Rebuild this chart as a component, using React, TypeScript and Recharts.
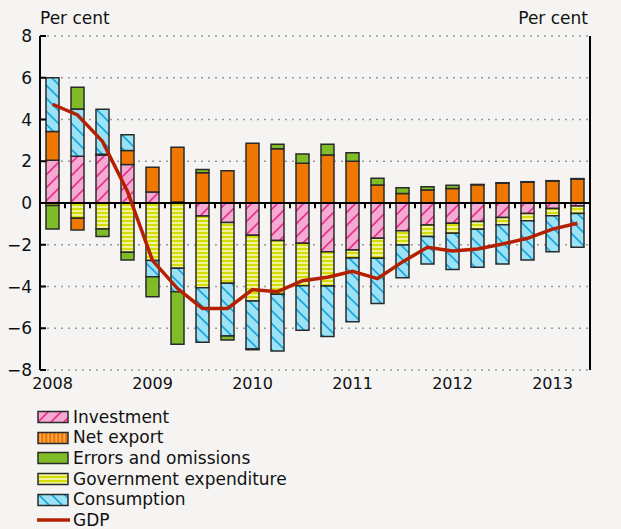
import React from "react";
import { ComposedChart, Bar, Line, XAxis, YAxis, CartesianGrid, ReferenceLine } from "recharts";

// Quarterly contributions to GDP growth, 2008 Q1 - 2013 Q2
const quarters = [
  "2008Q1", "2008Q2", "2008Q3", "2008Q4",
  "2009Q1", "2009Q2", "2009Q3", "2009Q4",
  "2010Q1", "2010Q2", "2010Q3", "2010Q4",
  "2011Q1", "2011Q2", "2011Q3", "2011Q4",
  "2012Q1", "2012Q2", "2012Q3", "2012Q4",
  "2013Q1", "2013Q2",
];
const yearLabels = ["2008", "2009", "2010", "2011", "2012", "2013"];
const yTicks = [-8, -6, -4, -2, 0, 2, 4, 6, 8];

const investment = [2.05, 2.24, 2.3, 1.84, 0.53, 0.05, -0.62, -0.94, -1.55, -1.8, -1.93, -2.33, -2.25, -1.69, -1.33, -1.05, -0.97, -0.89, -0.69, -0.5, -0.26, -0.14];
const netExport = [1.37, -0.56, 0.03, 0.67, 1.18, 2.62, 1.45, 1.55, 2.86, 2.6, 1.9, 2.3, 2.0, 0.86, 0.46, 0.62, 0.7, 0.87, 0.95, 1.0, 1.05, 1.15];
const errors = [-1.13, 1.04, -0.36, -0.37, -0.96, -2.52, 0.15, -0.19, -0.04, 0.21, 0.45, 0.51, 0.41, 0.32, 0.27, 0.16, 0.15, 0.02, 0.02, 0.02, 0.02, 0.02];
const government = [-0.12, -0.73, -1.25, -2.36, -2.76, -3.13, -3.44, -2.91, -3.14, -2.57, -2.03, -1.65, -0.38, -0.96, -0.68, -0.56, -0.48, -0.37, -0.35, -0.35, -0.35, -0.36];
const consumption = [2.58, 2.26, 2.16, 0.76, -0.77, -1.12, -2.61, -2.52, -2.3, -2.72, -2.14, -2.42, -3.06, -2.16, -1.57, -1.31, -1.73, -1.82, -1.88, -1.88, -1.72, -1.62];
const gdp = [4.73, 4.22, 2.95, 0.55, -2.75, -4.1, -5.05, -5.05, -4.15, -4.25, -3.72, -3.56, -3.27, -3.62, -2.82, -2.12, -2.3, -2.2, -1.96, -1.69, -1.25, -0.97];

const data = quarters.map((q, i) => ({
  idx: i,
  q,
  investment: investment[i],
  netExport: netExport[i],
  errors: errors[i],
  government: government[i],
  consumption: consumption[i],
  gdp: gdp[i],
}));

const yearTicks = yearLabels.map((_, i) => i * 4);
// small tick marks on the zero line, between the quarters
const gaps = quarters.slice(1).map((_, i) => i + 0.5);

const FONT = "'DejaVu Sans', Verdana, sans-serif";
const BG = "#f5f4f2";

const fmt = (v: number) => (v < 0 ? "\u2212" + Math.abs(v) : String(v));

const LeftTick = (props: any) => {
  const { x, y, payload } = props;
  return (
    <g>
      <line x1={x + 8} x2={x + 14} y1={y} y2={y} stroke="#000" strokeWidth={2} />
      <text x={x} y={y} dy={6} textAnchor="end" fontSize={17} fontFamily={FONT} fill="#111">
        {fmt(payload.value)}
      </text>
    </g>
  );
};

const RightTick = (props: any) => {
  const { x, y, payload } = props;
  return (
    <g>
      <line x1={x - 28} x2={x - 34} y1={y} y2={y} stroke="#000" strokeWidth={2} />
      <text x={x} y={y} dy={6} textAnchor="end" fontSize={17} fontFamily={FONT} fill="#111">
        {fmt(payload.value)}
      </text>
    </g>
  );
};

const YearTick = (props: any) => {
  const { x, y, payload } = props;
  return (
    <text x={x} y={y} dy={13} textAnchor="middle" fontSize={16} fontFamily={FONT} fill="#111">
      {yearLabels[payload.value / 4]}
    </text>
  );
};

const legendItems = [
  { name: "Investment", fill: "url(#pinkHatch)" },
  { name: "Net export", fill: "url(#orangeStripes)" },
  { name: "Errors and omissions", fill: "#80bc28" },
  { name: "Government expenditure", fill: "url(#yellowStripes)" },
  { name: "Consumption", fill: "url(#blueHatch)" },
];

const Patterns = () => (
  <svg width={0} height={0} style={{ position: "absolute" }}>
    <defs>
      <pattern id="pinkHatch" patternUnits="userSpaceOnUse" width={13} height={13}>
        <rect width={13} height={13} fill="#f5aad2" />
        <path d="M0,13 L13,0 M-3,3 L3,-3 M10,16 L16,10" stroke="#e8308a" strokeWidth={1.6} />
      </pattern>
      <pattern id="blueHatch" patternUnits="userSpaceOnUse" width={13} height={13}>
        <rect width={13} height={13} fill="#9ce2f6" />
        <path d="M0,0 L13,13 M-3,10 L3,16 M10,-3 L16,3" stroke="#18a4dc" strokeWidth={1.6} />
      </pattern>
      <pattern id="yellowStripes" patternUnits="userSpaceOnUse" width={4} height={4}>
        <rect width={4} height={4} fill="#eef39c" />
        <rect width={4} height={2} fill="#d4dc00" />
      </pattern>
      <pattern id="orangeStripes" patternUnits="userSpaceOnUse" width={4} height={4}>
        <rect width={4} height={4} fill="#f07800" />
        <rect x={2.5} width={1.3} height={4} fill="#f9b878" />
      </pattern>
    </defs>
  </svg>
);

const barProps = {
  stackId: "a",
  yAxisId: "l",
  barSize: 13,
  stroke: "#2a2a2a",
  strokeWidth: 1.5,
  isAnimationActive: false,
};

export default function App() {
  return (
    <div
      style={{
        position: "absolute",
        left: 0,
        top: 0,
        width: 621,
        height: 529,
        background: BG,
        fontFamily: FONT,
        color: "#111",
      }}
    >
      <Patterns />
      <div style={{ position: "absolute", left: 40, top: 8, fontSize: 17 }}>Per cent</div>
      <div style={{ position: "absolute", right: 621 - 588, top: 8, fontSize: 17 }}>Per cent</div>
      <ComposedChart
        width={621}
        height={529}
        data={data}
        stackOffset="sign"
        margin={{ top: 36, right: 0, bottom: 129, left: 0 }}
      >
        <CartesianGrid yAxisId="l" vertical={false} stroke="#9a9a9a" strokeDasharray="2 5" strokeWidth={1.3} />
        <XAxis
          dataKey="idx"
          type="number"
          domain={[-0.5, quarters.length - 0.5]}
          ticks={yearTicks}
          interval={0}
          axisLine={false}
          tickLine={false}
          tickSize={0}
          tickMargin={6}
          height={30}
          tick={<YearTick />}
        />
        <YAxis
          yAxisId="l"
          domain={[-8, 8]}
          ticks={yTicks}
          width={40}
          axisLine={{ stroke: "#000", strokeWidth: 2 }}
          tickLine={false}
          tickSize={0}
          tickMargin={8}
          tick={<LeftTick />}
        />
        <YAxis
          yAxisId="r"
          orientation="right"
          domain={[-8, 8]}
          ticks={yTicks}
          width={31}
          axisLine={{ stroke: "#000", strokeWidth: 2 }}
          tickLine={false}
          tickSize={0}
          tickMargin={28}
          tick={<RightTick />}
        />
        <Bar dataKey="investment" name="Investment" fill="url(#pinkHatch)" {...barProps} />
        <Bar dataKey="government" name="Government expenditure" fill="url(#yellowStripes)" {...barProps} />
        <Bar dataKey="netExport" name="Net export" fill="#f07800" {...barProps} />
        <Bar dataKey="consumption" name="Consumption" fill="url(#blueHatch)" {...barProps} />
        <Bar dataKey="errors" name="Errors and omissions" fill="#80bc28" {...barProps} />
        <ReferenceLine yAxisId="l" y={0} stroke="#000" strokeWidth={2} />
        {gaps.map((g) => (
          <ReferenceLine
            key={g}
            yAxisId="l"
            segment={[
              { x: g, y: 0 },
              { x: g, y: -0.25 },
            ]}
            stroke="#000"
            strokeWidth={2}
          />
        ))}
        <Line
          yAxisId="l"
          dataKey="gdp"
          name="GDP"
          type="linear"
          stroke="#b42000"
          strokeWidth={3.5}
          dot={false}
          isAnimationActive={false}
        />
      </ComposedChart>
      <div style={{ position: "absolute", left: 37, top: 407, fontSize: 17 }}>
        {legendItems.map((it) => (
          <div key={it.name} style={{ display: "flex", alignItems: "center", height: 20.6 }}>
            <svg width={34} height={14}>
              <rect x={1} y={1.5} width={30} height={11} fill={it.fill} stroke="#2a2a2a" strokeWidth={1.5} />
            </svg>
            <span style={{ marginLeft: 2, lineHeight: "17px" }}>{it.name}</span>
          </div>
        ))}
        <div style={{ display: "flex", alignItems: "center", height: 20.6 }}>
          <svg width={34} height={14}>
            <line x1={0} x2={33} y1={7} y2={7} stroke="#b42000" strokeWidth={3.5} />
          </svg>
          <span style={{ marginLeft: 2, lineHeight: "17px" }}>GDP</span>
        </div>
      </div>
    </div>
  );
}
